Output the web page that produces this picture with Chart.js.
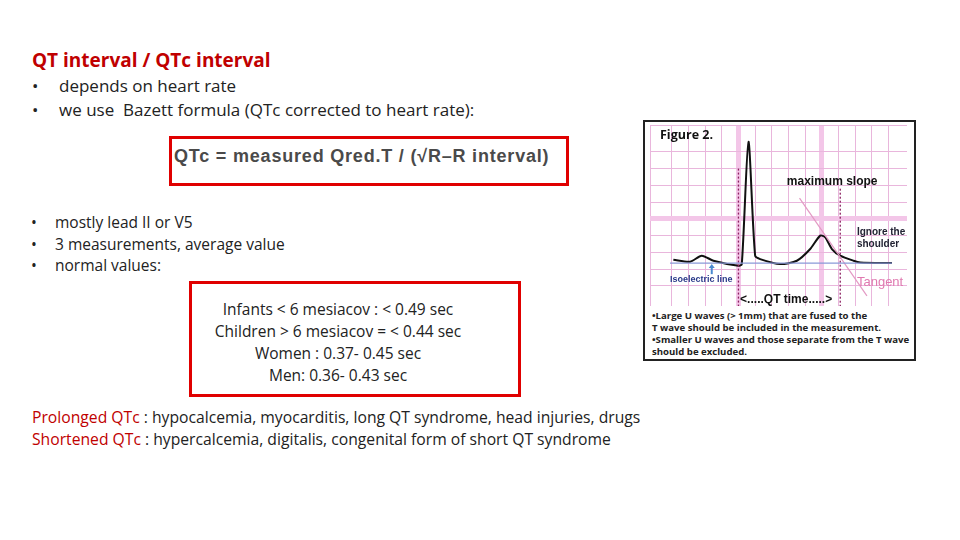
<!DOCTYPE html>
<html><head><meta charset="utf-8">
<script src="https://cdn.jsdelivr.net/npm/chart.js@4/dist/chart.umd.min.js"></script>
<style>
body{margin:0;width:960px;height:540px;background:#fff;position:relative;overflow:hidden;font-family:"Open Sans",sans-serif;color:#222}
.a{position:absolute;white-space:nowrap}
.r{color:#c00000}
.b{position:absolute;left:-24px}
</style></head><body>
<div class="a r" style="left:32px;top:47px;font-size:19px;font-weight:bold;font-family:'Open Sans'">QT interval / QTc interval</div>
<div class="a" style="left:59px;top:74px;font-size:17px;line-height:24px"><span class="b" style="left:-27px">•</span>depends on heart rate<br><span class="b" style="left:-27px;top:24px">•</span>we use&nbsp; Bazett formula (QTc corrected to heart rate):</div>
<div class="a" style="left:169px;top:136px;width:394px;height:44px;border:3px solid #e00000"></div>
<div class="a" style="left:174px;top:146px;font-family:'Liberation Sans',Arial;font-size:18px;font-weight:bold;letter-spacing:0.8px;color:#4a4a4a">QTc = measured Qred.T / (√R–R interval)</div>
<div class="a" style="left:55px;top:212px;font-size:15.5px;line-height:21.5px"><span class="b">•</span>mostly lead II or V5<br><span class="b" style="top:21.5px">•</span>3 measurements, average value<br><span class="b" style="top:43px">•</span>normal values:</div>
<div class="a" style="left:189px;top:281px;width:326px;height:110px;border:3px solid #e00000"></div>
<div class="a" style="left:189px;top:298px;width:298px;text-align:center;font-size:15.5px;line-height:22px">Infants &lt; 6 mesiacov : &lt; 0.49 sec<br>Children &gt; 6 mesiacov = &lt; 0.44 sec<br>Women : 0.37- 0.45 sec<br>Men: 0.36- 0.43 sec</div>
<div class="a" style="left:32px;top:406px;font-size:15.7px;line-height:22px"><span class="r">Prolonged QTc </span>: hypocalcemia, myocarditis, long QT syndrome, head injuries, drugs<br><span class="r">Shortened QTc </span>: hypercalcemia, digitalis, congenital form of short QT syndrome</div>
<div class="a" style="left:643px;top:120px;width:269px;height:237px;border:2px solid #222;background:#fff"></div>
<div class="a" style="left:650px;top:125px;width:257px;height:181px"><canvas id="c" width="257" height="181"></canvas></div>
<div class="a" style="left:652px;top:310px;font-size:9.6px;line-height:12px;font-weight:bold;color:#222;font-family:'Open Sans',sans-serif">•Large U waves (&gt; 1mm) that are fused to the<br>T wave should be included in the measurement.<br>•Smaller U waves and those separate from the T wave<br>should be excluded.</div>
<script>
const traceX=[1.1,2.1,2.8,3.5,5.0,5.2,5.6,6.0,6.3,7.5,8.5,9.3,9.9,10.2,10.6,11.1,11.9,12.3,14.2];
const traceY=[2.56,2.44,2.8,2.5,2.2,2.3,9.6,2.8,2.6,2.3,2.5,3.2,4.0,3.9,3.2,2.8,2.5,2.4,2.36];
const isoX=[0.9,14.2], isoY=[2.36,2.36];
const tanX=[8.66,12.7], tanY=[6.24,0.4];
const qStartX=[5.0,5.0], qStartY=[8,-0.2];
const tEndX=[11.1,11.1], tEndY=[6.8,-0.2];
const pts=(xs,ys)=>xs.map((x,i)=>({x,y:ys[i]}));
const labels=[
 {t:'Figure 2.',x:0.3,y:10.0,c:'#111',f:'bold 12.5px "Open Sans"'},
 {t:'maximum slope',x:7.9,y:7.2,c:'#111',f:'bold 12px "Liberation Sans Narrow","Liberation Sans"'},
 {t:'Ignore the',x:12.1,y:4.2,c:'#223',f:'bold 10px "Liberation Sans Narrow","Liberation Sans"'},
 {t:'shoulder',x:12.1,y:3.5,c:'#223',f:'bold 10px "Liberation Sans Narrow","Liberation Sans"'},
 {t:'Tangent',x:12.1,y:1.2,c:'#e07ab0',f:'13px "Liberation Sans"'},
 {t:'Isoelectric line',x:0.9,y:1.4,c:'#2a3a8a',f:'bold 9px "Liberation Sans Narrow","Liberation Sans"'},
 {t:'<.....QT time.....>',x:5.1,y:0.2,c:'#111',f:'bold 12px "Liberation Sans"'}
];
const txt={id:'txt',afterDatasetsDraw(ch){const {ctx,scales:{x,y}}=ch;ctx.save();
 labels.forEach(l=>{ctx.font=l.f;ctx.fillStyle=l.c;ctx.textAlign='left';ctx.textBaseline='middle';ctx.fillText(l.t,x.getPixelForValue(l.x),y.getPixelForValue(l.y));});
 ctx.strokeStyle='#4a8ad0';ctx.fillStyle='#4a8ad0';ctx.lineWidth=2;
 const ax=x.getPixelForValue(3.4),ay1=y.getPixelForValue(1.7),ay2=y.getPixelForValue(2.3);
 ctx.beginPath();ctx.moveTo(ax,ay1);ctx.lineTo(ax,ay2+3);ctx.stroke();
 ctx.beginPath();ctx.moveTo(ax-3,ay2+4);ctx.lineTo(ax+3,ay2+4);ctx.lineTo(ax,ay2);ctx.fill();
 ctx.restore();}};
const gc=c=>c.tick.value%5===0?'#f3c6e8':'#e9b6dc';
const gw=c=>c.tick.value%5===0?5:1;
new Chart(document.getElementById('c'),{type:'scatter',
 data:{datasets:[
  {data:pts(isoX,isoY),showLine:true,borderColor:'#8a9ad8',borderWidth:1.2,pointRadius:0},
  {data:pts(tanX,tanY),showLine:true,borderColor:'#e39ac4',borderWidth:1.2,pointRadius:0},
  {data:pts(qStartX,qStartY),showLine:true,borderColor:'#8a2060',borderWidth:1.3,borderDash:[2,2],pointRadius:0},
  {data:pts(tEndX,tEndY),showLine:true,borderColor:'#8a2060',borderWidth:1.3,borderDash:[2,2],pointRadius:0},
  {data:pts(traceX,traceY),showLine:true,borderColor:'#111',borderWidth:2,pointRadius:0,tension:0.25}
 ]},
 options:{responsive:false,animation:false,layout:{padding:0},
  plugins:{legend:{display:false},tooltip:{enabled:false}},
  scales:{
   x:{type:'linear',min:-0.3,max:15.1,ticks:{display:false,stepSize:1},grid:{color:gc,lineWidth:gw,drawTicks:false},border:{display:false}},
   y:{type:'linear',min:-0.2,max:10.6,ticks:{display:false,stepSize:1},grid:{color:gc,lineWidth:gw,drawTicks:false},border:{display:false}}
  }},
 plugins:[txt]});
</script>
</body></html>
